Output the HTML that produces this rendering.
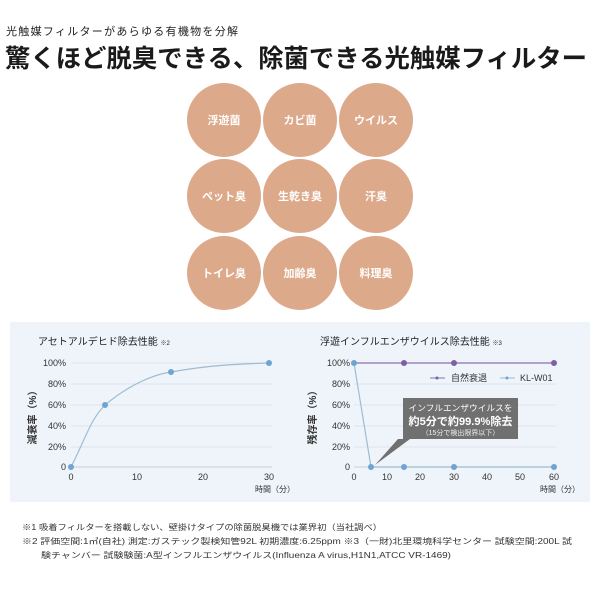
<!DOCTYPE html>
<html><head><meta charset="utf-8"><style>
body{margin:0;background:#fff;width:600px;height:600px;overflow:hidden;font-family:"Liberation Sans","Noto Sans CJK JP",sans-serif}
</style></head><body>
<svg width="600" height="600" xmlns="http://www.w3.org/2000/svg" font-family="Liberation Sans, Noto Sans CJK JP, sans-serif">
<text x="6" y="35" font-size="11" fill="#222" textLength="232" lengthAdjust="spacing">光触媒フィルターがあらゆる有機物を分解</text>
<text x="5" y="67" font-size="25" font-weight="bold" fill="#1a1a1a" textLength="582" lengthAdjust="spacingAndGlyphs">驚くほど脱臭できる、除菌できる光触媒フィルター</text>
<g fill="#dca98a">
<circle cx="224" cy="120" r="37"/><circle cx="300" cy="120" r="37"/><circle cx="376" cy="120" r="37"/>
<circle cx="224" cy="196" r="37"/><circle cx="300" cy="196" r="37"/><circle cx="376" cy="196" r="37"/>
<circle cx="224" cy="273" r="37"/><circle cx="300" cy="273" r="37"/><circle cx="376" cy="273" r="37"/>
</g>
<g fill="#fff" font-size="11" font-weight="bold" text-anchor="middle">
<text x="224" y="124">浮遊菌</text><text x="300" y="124">カビ菌</text><text x="376" y="124">ウイルス</text>
<text x="224" y="200">ペット臭</text><text x="300" y="200">生乾き臭</text><text x="376" y="200">汗臭</text>
<text x="224" y="277">トイレ臭</text><text x="300" y="277">加齢臭</text><text x="376" y="277">料理臭</text>
</g>
<rect x="10" y="322" width="580" height="180" fill="#eef4fa"/>
<!-- left chart -->
<text x="38" y="345" font-size="10" fill="#222">アセトアルデヒド除去性能 <tspan font-size="6">※2</tspan></text>
<g stroke="#dde3ea" stroke-width="1">
<line x1="71" y1="363" x2="272" y2="363"/><line x1="71" y1="384" x2="272" y2="384"/><line x1="71" y1="405" x2="272" y2="405"/><line x1="71" y1="426" x2="272" y2="426"/><line x1="71" y1="447" x2="272" y2="447"/>
</g>
<line x1="71" y1="467" x2="272" y2="467" stroke="#c8d0d8"/>
<g font-size="9" fill="#333" text-anchor="end">
<text x="66" y="366">100%</text><text x="66" y="387">80%</text><text x="66" y="408">60%</text><text x="66" y="429">40%</text><text x="66" y="450">20%</text><text x="66" y="470">0</text>
</g>
<g font-size="9" fill="#333" text-anchor="middle">
<text x="71" y="480">0</text><text x="137" y="480">10</text><text x="203" y="480">20</text><text x="269" y="480">30</text>
</g>
<text x="255" y="492" font-size="8" fill="#333">時間（分）</text>
<text transform="translate(36,415) rotate(-90)" font-size="10" font-weight="bold" fill="#333" text-anchor="middle">減衰率（%）</text>
<path d="M71,467 C85,440 90,420 105,405 C125,388 150,375 171,372 C210,365 240,364 269,363" fill="none" stroke="#9fbcd0" stroke-width="1.2"/>
<g fill="#6fa3d2"><circle cx="71" cy="467" r="3"/><circle cx="105" cy="405" r="3"/><circle cx="171" cy="372" r="3"/><circle cx="269" cy="363" r="3"/></g>
<!-- right chart -->
<text x="320" y="345" font-size="10" fill="#222">浮遊インフルエンザウイルス除去性能 <tspan font-size="6">※3</tspan></text>
<g stroke="#dde3ea"><line x1="354" y1="384" x2="556" y2="384"/><line x1="354" y1="405" x2="556" y2="405"/><line x1="354" y1="426" x2="556" y2="426"/><line x1="354" y1="447" x2="556" y2="447"/></g>
<line x1="354" y1="467" x2="556" y2="467" stroke="#c8d0d8"/>
<g font-size="9" fill="#333" text-anchor="end">
<text x="350" y="366">100%</text><text x="350" y="387">80%</text><text x="350" y="408">60%</text><text x="350" y="429">40%</text><text x="350" y="450">20%</text><text x="350" y="470">0</text>
</g>
<g font-size="9" fill="#333" text-anchor="middle">
<text x="354" y="480">0</text><text x="387" y="480">10</text><text x="420" y="480">20</text><text x="454" y="480">30</text><text x="487" y="480">40</text><text x="520" y="480">50</text><text x="554" y="480">60</text>
</g>
<text x="540" y="492" font-size="8" fill="#333">時間（分）</text>
<text transform="translate(316,415) rotate(-90)" font-size="10" font-weight="bold" fill="#333" text-anchor="middle">残存率（%）</text>
<line x1="354" y1="363" x2="554" y2="363" stroke="#8a6fb0" stroke-width="1.2"/>
<g fill="#7d5ea8"><circle cx="404" cy="363" r="3"/><circle cx="454" cy="363" r="3"/><circle cx="554" cy="363" r="3"/></g>
<polyline points="354,363 371,467 554,467" fill="none" stroke="#9fbcd0" stroke-width="1.2"/>
<g fill="#6fa3d2"><circle cx="354" cy="363" r="3"/><circle cx="371" cy="467" r="3"/><circle cx="404" cy="467" r="3"/><circle cx="454" cy="467" r="3"/><circle cx="554" cy="467" r="3"/></g>
<line x1="430" y1="378" x2="445" y2="378" stroke="#8a6fb0"/><circle cx="437" cy="378" r="1.5" fill="#7d5ea8"/>
<text x="451" y="381" font-size="9" fill="#333">自然衰退</text>
<line x1="500" y1="378" x2="515" y2="378" stroke="#9fbcd0"/><circle cx="507" cy="378" r="1.5" fill="#6fa3d2"/>
<text x="520" y="381" font-size="9" fill="#333">KL-W01</text>
<path d="M403,398 H518 V439 H410 L375,465 L398,439 H403 Z" fill="#707070"/>
<text x="460.5" y="411" font-size="8.5" fill="#fff" text-anchor="middle" textLength="104" lengthAdjust="spacingAndGlyphs">インフルエンザウイルスを</text>
<text x="460.5" y="425" font-size="11" font-weight="bold" fill="#fff" text-anchor="middle" textLength="104" lengthAdjust="spacingAndGlyphs">約5分で約99.9%除去</text>
<text x="460.5" y="435" font-size="7" fill="#eee" text-anchor="middle">（15分で検出限界以下）</text>
<!-- footnotes -->
<g font-size="8" fill="#333">
<text x="22" y="530" textLength="360" lengthAdjust="spacingAndGlyphs">※1 吸着フィルターを搭載しない、壁掛けタイプの除菌脱臭機では業界初（当社調べ）</text>
<text x="22" y="544" textLength="550" lengthAdjust="spacingAndGlyphs">※2 評価空間:1㎥(自社) 測定:ガステック製検知管92L 初期濃度:6.25ppm ※3（一財)北里環境科学センター 試験空間:200L 試</text>
<text x="41" y="558" textLength="410" lengthAdjust="spacingAndGlyphs">験チャンバー 試験験菌:A型インフルエンザウイルス(Influenza A virus,H1N1,ATCC VR-1469)</text>
</g>
</svg>
</body></html>
